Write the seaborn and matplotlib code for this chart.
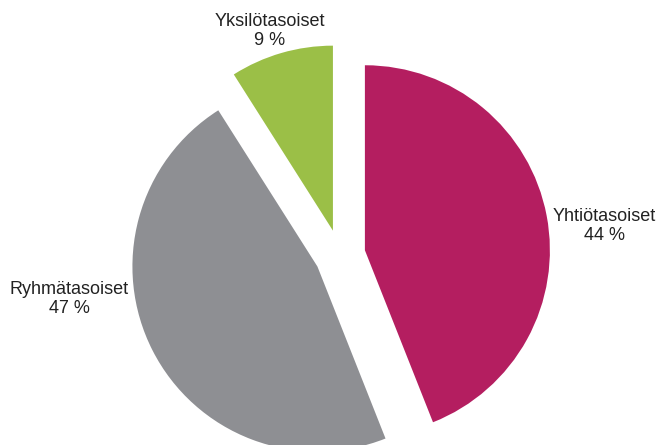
import seaborn as sns
from matplotlib import pyplot as plt

labels = ["Yhtiötasoiset", "Ryhmätasoiset", "Yksilötasoiset"]
shares = [44, 47, 9]
colors = ["#B41E60", "#8E8F93", "#9BBF47"]

sns.set_theme(style="white")
plt.rcParams['font.family'] = ['Liberation Sans', 'DejaVu Sans']

W, H = 662, 445
R = 185  # radius in px
cx, cy = 340, 255  # pie centre in px (from top-left)

fig = plt.figure(figsize=(W / 100, H / 100), dpi=100)
ax = fig.add_axes([0, 0, 1, 1])
ax.pie(shares, colors=colors, startangle=90, counterclock=False,
       explode=[0.137] * 3, wedgeprops=dict(linewidth=0))
ax.set_xlim(-cx / R, (W - cx) / R)
ax.set_ylim(-(H - cy) / R, cy / R)
ax.set_aspect('auto')
ax.axis('off')

# label centres in px
label_pos = [(604, 226), (69, 299), (270, 31)]
for lab, val, (px, py) in zip(labels, shares, label_pos):
    fig.text(px / W, 1 - py / H, "{}\n{} %".format(lab, val), ha='center', va='center',
             fontsize=13, color='#222222', linespacing=1.15)

fig.savefig("out.png", dpi=100)
